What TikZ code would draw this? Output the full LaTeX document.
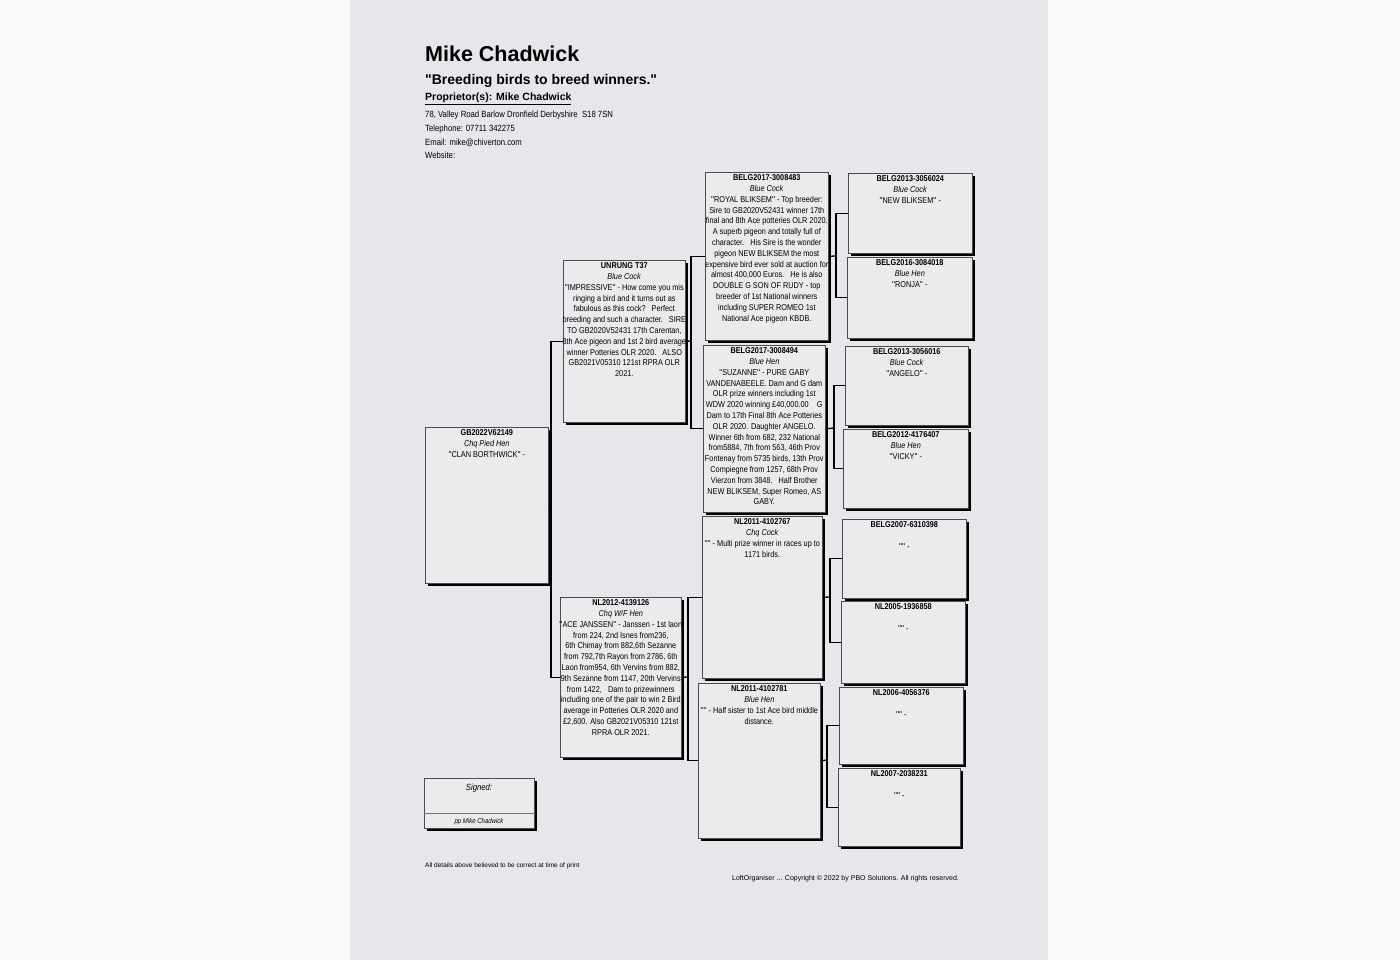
\documentclass[tikz,border=0pt]{standalone}
\usepackage{fontspec}
\setmainfont{Liberation Sans}
\newfontfamily\nf[FakeStretch=0.86]{Liberation Sans}
\usetikzlibrary{shadows}
\definecolor{paper}{RGB}{229,231,234}
\definecolor{boxbg}{RGB}{233,235,237}
\definecolor{outside}{RGB}{250,250,250}
\font\qn="Liberation Sans" at 8.5pt
\font\qb="Liberation Sans/B" at 14pt
\newcommand\qq{{\qn\char34}}
\newcommand\qqb{{\qb\char34}}
\newcommand\birdbox[6]{%
  \node[bird, minimum width={#4-#2}, minimum height={#5-#3}] (#1) at (#2,#3) {};
  \node[btxt] (#1t) at ([yshift=-2.5pt]#1.north) {#6};}
\begin{document}
\begin{tikzpicture}[x=1pt,y=-1pt,
  bird/.style={draw=black!70, fill=boxbg, line width=0.6pt, anchor=north west, inner sep=0pt,
    drop shadow={shadow xshift=2.5pt, shadow yshift=-2.5pt, opacity=1, fill=black}},
  btxt/.style={anchor=north, align=center, inner sep=0pt, font=\nf\fontsize{8.5}{10.8}\selectfont},
  link/.style={line width=1.3pt, black},
  hd/.style={anchor=base west, inner sep=0pt}]
\fill[outside] (0,0) rectangle (1400,960);
\fill[paper] (350,0) rectangle (1048,960);
\useasboundingbox (0,0) rectangle (1400,960);

% header
\node[hd, font=\bfseries\fontsize{21.5}{24}\selectfont] (title) at (425,62) {Mike Chadwick};
\node[hd, font=\bfseries\fontsize{14}{16}\selectfont] (motto) at (425,84.5) {\qqb Breeding birds to breed winners.\qqb};
\node[hd, font=\bfseries\fontsize{10.5}{12}\selectfont] (prop) at (425,101) {\underline{Proprietor(s): Mike Chadwick}};
\node[hd, font=\nf\fontsize{9}{10}\selectfont] (addr) at (425,118) {78, Valley Road Barlow Dronfield Derbyshire\ \ S18 7SN};
\node[hd, font=\nf\fontsize{9}{10}\selectfont] (tel) at (425,132) {Telephone: 07711 342275};
\node[hd, font=\nf\fontsize{9}{10}\selectfont] (mail) at (425,146) {Email: mike@chiverton.com};
\node[hd, font=\nf\fontsize{9}{10}\selectfont] (web) at (425,159) {Website:};

% generation 0
\birdbox{g0}{425}{427}{548}{583}{\textbf{GB2022V62149}\\ \textit{Chq Pied Hen}\\ \qq CLAN BORTHWICK\qq\ -}

% generation 1
\birdbox{s}{563}{260}{685}{422}{\textbf{UNRUNG T37}\\ \textit{Blue Cock}\\
\qq IMPRESSIVE\qq\ - How come you mis\\ ringing a bird and it turns out as\\ fabulous as this cock?\ \ \ Perfect\\
breeding and such a character.\ \ \ SIRE\\ TO GB2020V52431 17th Carentan,\\ 8th Ace pigeon and 1st 2 bird average\\
winner Potteries OLR 2020.\ \ \ ALSO\\ GB2021V05310 121st RPRA OLR\\ 2021.}
\birdbox{d}{560}{597}{681}{757}{\textbf{NL2012-4139126}\\ \textit{Chq W/F Hen}\\
\qq ACE JANSSEN\qq\ - Janssen - 1st laon\\ from 224, 2nd Isnes from236,\\ 6th Chimay from 882,6th Sezanne\\
from 792,7th Rayon from 2786, 6th\\ Laon from954, 6th Vervins from 882,\\ 9th Sezanne from 1147, 20th Vervins\\
from 1422,\ \ \ Dam to prizewinners\\ including one of the pair to win 2 Bird\\ average in Potteries OLR 2020 and\\
£2,600. Also GB2021V05310 121st\\ RPRA OLR 2021.}

% generation 2
\birdbox{ss}{705}{172}{828}{340}{\textbf{BELG2017-3008483}\\ \textit{Blue Cock}\\
\qq ROYAL BLIKSEM\qq\ - Top breeder:\\ Sire to GB2020V52431 winner 17th\\ final and 8th Ace potteries OLR 2020.\\
A superb pigeon and totally full of\\ character.\ \ \ His Sire is the wonder\\ pigeon NEW BLIKSEM the most\\
expensive bird ever sold at auction for\\ almost 400,000 Euros.\ \ \ He is also\\ DOUBLE G SON OF RUDY - top\\
breeder of 1st National winners\\ including SUPER ROMEO 1st\\ National Ace pigeon KBDB.}
\birdbox{sd}{703}{345}{825}{512}{\textbf{BELG2017-3008494}\\ \textit{Blue Hen}\\
\qq SUZANNE\qq\ - PURE GABY\\ VANDENABEELE. Dam and G dam\\ OLR prize winners including 1st\\
WDW 2020 winning £40,000.00\ \ \ \ G\\ Dam to 17th Final 8th Ace Potteries\\ OLR 2020. Daughter ANGELO.\\
Winner 6th from 682, 232 National\\ from5884, 7th from 563, 46th Prov\\ Fontenay from 5735 birds, 13th Prov\\
Compiegne from 1257, 68th Prov\\ Vierzon from 3848.\ \ \ Half Brother\\ NEW BLIKSEM, Super Romeo, AS\\ GABY.}
\birdbox{ds}{702}{516}{822}{678}{\textbf{NL2011-4102767}\\ \textit{Chq Cock}\\
\qq\qq\ - Multi prize winner in races up to\\ 1171 birds.}
\birdbox{dd}{698}{683}{820}{838}{\textbf{NL2011-4102781}\\ \textit{Blue Hen}\\
\qq\qq\ - Half sister to 1st Ace bird middle\\ distance.}

% generation 3
\birdbox{sss}{848}{173}{972}{253}{\textbf{BELG2013-3056024}\\ \textit{Blue Cock}\\ \qq NEW BLIKSEM\qq\ -}
\birdbox{ssd}{847}{257}{972}{338}{\textbf{BELG2016-3084018}\\ \textit{Blue Hen}\\ \qq RONJA\qq\ -}
\birdbox{sds}{845}{346}{968}{425}{\textbf{BELG2013-3056016}\\ \textit{Blue Cock}\\ \qq ANGELO\qq\ -}
\birdbox{sdd}{843}{429}{968}{508}{\textbf{BELG2012-4176407}\\ \textit{Blue Hen}\\ \qq VICKY\qq\ -}
\birdbox{dss}{842}{519}{966}{598}{\textbf{BELG2007-6310398}\\ \mbox{}\\ \qq\qq\ -}
\birdbox{dsd}{841}{601}{965}{683}{\textbf{NL2005-1936858}\\ \mbox{}\\ \qq\qq\ -}
\birdbox{dds}{839}{687}{963}{764}{\textbf{NL2006-4056376}\\ \mbox{}\\ \qq\qq\ -}
\birdbox{ddd}{838}{768}{960}{846}{\textbf{NL2007-2038231}\\ \mbox{}\\ \qq\qq\ -}

% connectors
\coordinate (b0) at (551,505);
\draw[link] (g0.east) -- (b0);
\draw[link] (s.west) -| (b0) |- (d.west);
\coordinate (b1) at (691,341);
\draw[link] (s.east) -- (b1);
\draw[link] (ss.west) -| (b1) |- (sd.west);
\coordinate (b2) at (688,677);
\draw[link] (d.east) -- (b2);
\draw[link] (ds.west) -| (b2) |- (dd.west);
\coordinate (b3) at (836,256);
\draw[link] (ss.east) -- (b3);
\draw[link] (sss.west) -| (b3) |- (ssd.west);
\coordinate (b4) at (834,428);
\draw[link] (sd.east) -- (b4);
\draw[link] (sds.west) -| (b4) |- (sdd.west);
\coordinate (b5) at (830,597);
\draw[link] (ds.east) -- (b5);
\draw[link] (dss.west) -| (b5) |- (dsd.west);
\coordinate (b6) at (827,760);
\draw[link] (dd.east) -- (b6);
\draw[link] (dds.west) -| (b6) |- (ddd.west);

% signature block
\node[bird, minimum width=110, minimum height=50] (sig) at (424,778) {};
\draw[black!55, line width=0.6pt] (sig.west |- 0,813) -- (sig.east |- 0,813);
\node[inner sep=0pt, anchor=base, font=\nf\itshape\fontsize{9}{10}\selectfont] (signed) at (479,790) {Signed:};
\node[inner sep=0pt, anchor=base, font=\nf\itshape\fontsize{7}{8}\selectfont] (pp) at (479,823) {pp Mike Chadwick};

% footers
\node[hd, font=\fontsize{6.5}{8}\selectfont] (foot1) at (425,867) {All details above believed to be correct at time of print};
\node[hd, font=\fontsize{7}{9}\selectfont] (foot2) at (732,880) {LoftOrganiser ... Copyright © 2022 by PBO Solutions. All rights reserved.};
\end{tikzpicture}
\end{document}
